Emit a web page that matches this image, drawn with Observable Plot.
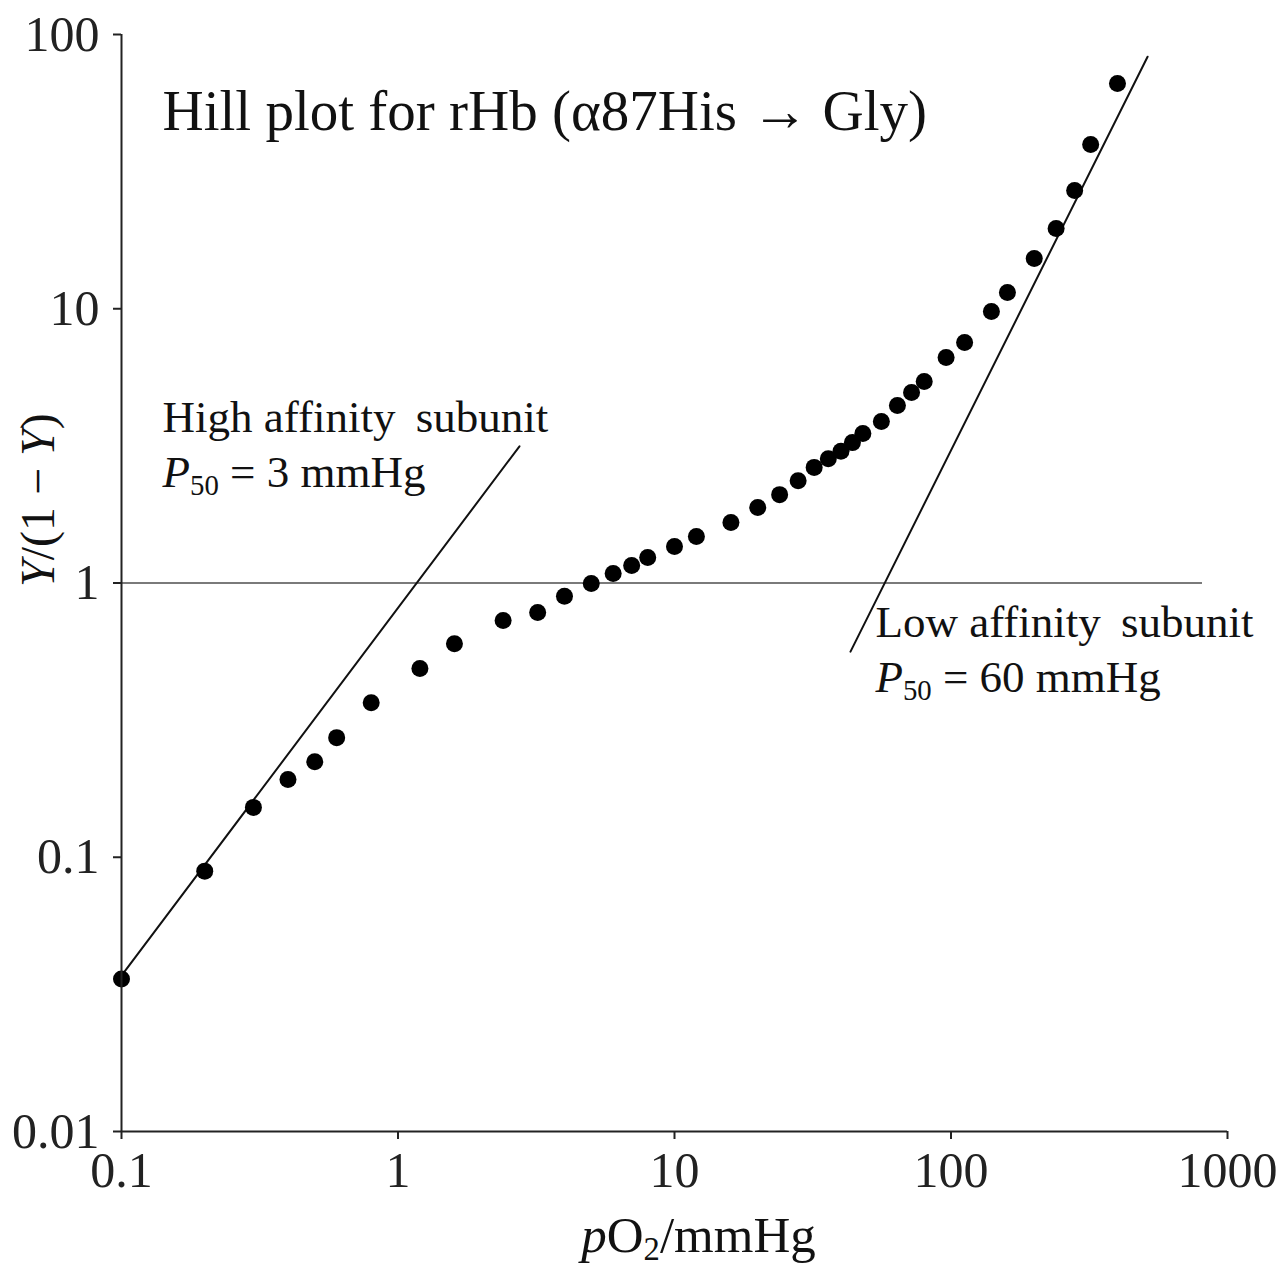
<!DOCTYPE html>
<html><head><meta charset="utf-8">
<script src="https://cdn.jsdelivr.net/npm/d3@7"></script>
<script src="https://cdn.jsdelivr.net/npm/@observablehq/plot@0.6"></script>
<style>body{margin:0;background:#fff}</style>
</head><body><div id="chart"></div>
<script>
// Oxygen partial pressure (mmHg) and Hill ratio Y/(1-Y)
const pO2 = [0.1, 0.2, 0.3, 0.4, 0.5, 0.6, 0.8, 1.2, 1.6, 2.4, 3.2, 4, 5, 6, 7, 8, 10, 12, 16, 20,
  24, 28, 32, 36, 40, 44, 48, 56, 64, 72, 80, 96, 112, 140, 160, 200, 240, 280, 320, 400];
const ratio = [0.036, 0.089, 0.152, 0.192, 0.223, 0.273, 0.366, 0.488, 0.601, 0.73, 0.78, 0.894, 0.995, 1.083, 1.158, 1.239, 1.358, 1.478, 1.662, 1.885,
  2.10, 2.36, 2.64, 2.84, 3.02, 3.25, 3.51, 3.88, 4.44, 4.95, 5.43, 6.64, 7.53, 9.77, 11.46, 15.25, 19.6, 27.0, 39.7, 66.3];

const xTicks = [0.1, 1, 10, 100, 1000];
const yTicks = [0.01, 0.1, 1, 10, 100];

// fitted lines (end points)
const highFitX = [0.1, 2.75];
const highFitY = [0.037, 3.15];
const lowFitX = [43.3, 514];
const lowFitY = [0.562, 83];
const refY = [1];
const refXEnd = [0.1, 812];

// annotations: _x_ = italic, ~x~ = subscript
const titleText = ["Hill plot for rHb (α87His → Gly)"];
const titleX = [0.1407];
const titleY = [44.7];
const annText = ["High affinity\u2009 subunit", "_P_~50~ = 3 mmHg", "Low affinity\u2009 subunit", "_P_~50~ = 60 mmHg"];
const annX = [0.1407, 0.1407, 53.3, 53.3];
const annY = [3.54, 2.23, 0.633, 0.399];
const xLabel = ["_p_O~2~/mmHg"];
const yLabel = ["_Y_/(1 − _Y_)"];

const points = pO2.map((x, i) => ({x, y: ratio[i]}));
const highFit = highFitX.map((x, i) => ({x, y: highFitY[i]}));
const lowFit = lowFitX.map((x, i) => ({x, y: lowFitY[i]}));
const titles = titleText.map((t, i) => ({t, x: titleX[i], y: titleY[i]}));
const anns = annText.map((t, i) => ({t, x: annX[i], y: annY[i]}));

const font = "'Liberation Serif', 'Times New Roman', serif";

const chart = Plot.plot({
  width: 1283,
  height: 1267,
  marginLeft: 121,
  marginRight: 56,
  marginTop: 34,
  marginBottom: 136,
  style: {fontFamily: font, background: "#fff", color: "#222"},
  x: {type: "log", domain: [0.1, 1000], label: null},
  y: {type: "log", domain: [0.01, 100], label: null},
  marks: [
    Plot.ruleY(refY, {x1: refXEnd[0], x2: refXEnd[1], stroke: "#7a7a7a", strokeWidth: 2}),
    Plot.line(highFit, {x: "x", y: "y", stroke: "#111", strokeWidth: 2}),
    Plot.line(lowFit, {x: "x", y: "y", stroke: "#111", strokeWidth: 2}),
    Plot.dot(points, {x: "x", y: "y", r: 8.5, fill: "#000", stroke: null}),
    Plot.ruleX([0.1], {stroke: "#222", strokeWidth: 2}),
    Plot.ruleY([0.01], {stroke: "#222", strokeWidth: 2}),
    Plot.axisX({ticks: xTicks, tickFormat: d => String(d), tickSize: 8, tickPadding: 12, fontSize: 50, label: null, strokeWidth: 2}),
    Plot.axisY({ticks: yTicks, tickFormat: d => String(d), tickSize: 8, tickPadding: 14, fontSize: 50, label: null, strokeWidth: 2}),
    Plot.text(titles, {x: "x", y: "y", text: "t", textAnchor: "start", lineAnchor: "bottom", fontSize: 57, fill: "#111"}),
    Plot.text(anns, {x: "x", y: "y", text: "t", textAnchor: "start", lineAnchor: "bottom", fontSize: 45, fill: "#111"}),
    Plot.text(xLabel, {text: d => d, frameAnchor: "bottom", dx: 24, dy: 120, lineAnchor: "bottom", fontSize: 51, fill: "#111"}),
    Plot.text(yLabel, {text: d => d, frameAnchor: "left", rotate: -90, dx: -83, dy: 4, fontSize: 48, fill: "#111"})
  ]
});

// turn the simple markup into italic / subscript tspans
d3.select(chart).selectAll("text").each(function () {
  const t = this.textContent;
  if (!/[_~]/.test(t)) return;
  const el = d3.select(this);
  el.text(null);
  const parts = t.split(/(_[^_]+_|~[^~]+~)/).filter(s => s);
  let shift = 0;
  for (const p of parts) {
    const ts = el.append("tspan");
    if (p[0] === "~") {
      ts.text(p.slice(1, -1)).attr("font-size", "64%").attr("dy", 8);
      shift = 8;
    } else {
      if (p[0] === "_") ts.text(p.slice(1, -1)).attr("font-style", "italic");
      else ts.text(p);
      if (shift) { ts.attr("dy", -shift); shift = 0; }
    }
  }
});

document.getElementById("chart").appendChild(chart);
</script>
</body></html>
